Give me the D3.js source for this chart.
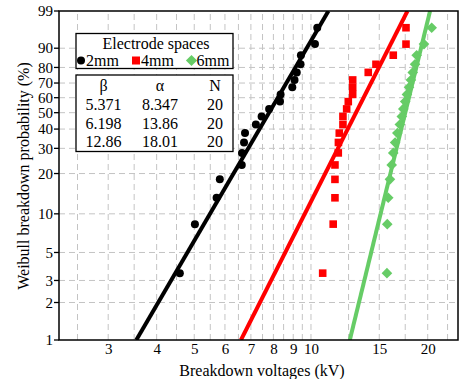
<!DOCTYPE html>
<html><head><meta charset="utf-8">
<script src="https://cdn.jsdelivr.net/npm/d3@7"></script>
<style>
body{margin:0;background:#fff}
svg{display:block}
text{font-family:"Liberation Serif","Times New Roman",serif;fill:#000}
</style>
</head><body>
<svg id="c" width="459" height="379"></svg>
<script>
// ---------- data ----------
const seriesNames = ["2mm", "4mm", "6mm"];
const seriesColors = ["#000000", "#ff0000", "#66cc66"];
const seriesShapes = ["circle", "square", "diamond"];
// median-rank breakdown probabilities (%) for N = 20
const rankProb = [3.43, 8.33, 13.24, 18.14, 23.04, 27.94, 32.84, 37.75, 42.65, 47.55,
                  52.45, 57.35, 62.25, 67.16, 72.06, 76.96, 81.86, 86.76, 91.67, 96.57];
// breakdown voltages (kV)
const volts2mm = [4.59, 5.02, 5.71, 5.82, 6.63, 6.64, 6.72, 6.76, 7.21, 7.46,
                  7.80, 8.32, 8.35, 8.95, 9.07, 9.19, 9.40, 9.42, 10.24, 10.38];
const volts4mm = [10.72, 11.41, 11.53, 11.53, 11.53, 11.76, 11.77, 11.83, 12.09, 12.09,
                  12.36, 12.48, 12.81, 12.81, 12.81, 14.05, 14.71, 16.30, 17.58, 17.58];
const volts6mm = [15.70, 15.73, 15.82, 15.98, 16.15, 16.30, 16.48, 16.70, 16.95, 17.15,
                  17.30, 17.50, 17.68, 17.90, 18.10, 18.30, 18.55, 18.73, 19.56, 20.48];
const betas = [5.371, 6.198, 12.86];
const alphas = [8.347, 13.86, 18.01];
const counts = [20, 20, 20];
const xTicks = [3, 4, 5, 6, 7, 8, 9, 10, 15, 20];
const xGrid = [2.5, 3, 3.5, 4, 4.5, 5, 5.5, 6, 6.5, 7, 7.5, 8, 8.5, 9, 9.5, 10, 12.5, 15, 17.5, 20, 22.5];
const yTicks = [1, 2, 3, 5, 10, 20, 30, 40, 50, 60, 70, 80, 90, 99];
const yGrid = [2, 3, 5, 10, 20, 30, 40, 50, 60, 70, 80, 90];
const xTitle = "Breakdown voltages (kV)";
const yTitle = "Weibull breakdown probability (%)";
const legendTitle = "Electrode spaces";

// ---------- layout ----------
const L = 59, R = 458, T = 11, B = 340;
const svg = d3.select("#c");

const wb = p => Math.log(-Math.log(1 - p / 100));
const x = d3.scaleLog().domain([2.24, 23.94]).range([L, R]);
const yLin = d3.scaleLinear().domain([wb(1), wb(99)]).range([B, T]);
const y = p => yLin(wb(p));

// grid
const grid = svg.append("g").attr("stroke", "#c4c4c4").attr("stroke-width", 1)
  .attr("stroke-dasharray", "6,4");
grid.selectAll("line.v").data(xGrid).join("line")
  .attr("x1", d => x(d)).attr("x2", d => x(d)).attr("y1", B).attr("y2", T);
grid.selectAll("line.h").data(yGrid).join("line")
  .attr("y1", d => y(d)).attr("y2", d => y(d)).attr("x1", L).attr("x2", R);

// clip
svg.append("clipPath").attr("id", "clip").append("rect")
  .attr("x", L).attr("y", T).attr("width", R - L).attr("height", B - T);

// fit lines
const fitG = svg.append("g").attr("clip-path", "url(#clip)");
const pEnds = [1, 99];
betas.forEach((b, i) => {
  const pts = pEnds.map(p => [alphas[i] * Math.exp(wb(p) / b), p]);
  fitG.append("path")
    .attr("d", d3.line().x(d => x(d[0])).y(d => y(d[1]))(pts))
    .attr("stroke", seriesColors[i]).attr("stroke-width", 4).attr("fill", "none");
});

// points
const allVolts = [volts2mm, volts4mm, volts6mm];
function drawMarker(g, shape, cx, cy, color, s) {
  if (shape === "circle") g.append("circle").attr("cx", cx).attr("cy", cy).attr("r", s).attr("fill", color);
  else if (shape === "square") g.append("rect").attr("x", cx - s).attr("y", cy - s).attr("width", 2 * s).attr("height", 2 * s).attr("fill", color);
  else g.append("path").attr("d", `M${cx},${cy - s * 1.4}L${cx + s * 1.4},${cy}L${cx},${cy + s * 1.4}L${cx - s * 1.4},${cy}Z`).attr("fill", color);
}
const ptG = svg.append("g").attr("clip-path", "url(#clip)");
allVolts.forEach((vals, i) => {
  vals.forEach((v, k) => drawMarker(ptG, seriesShapes[i], x(v), y(rankProb[k]), seriesColors[i], i === 0 ? 4 : 3.8));
});

// frame
svg.append("rect").attr("x", L).attr("y", T).attr("width", R - L).attr("height", B - T)
  .attr("fill", "none").attr("stroke", "#000").attr("stroke-width", 1.5);

// y axis
const yAxisG = svg.append("g");
yTicks.forEach(t => {
  yAxisG.append("line").attr("x1", L - 5).attr("x2", L).attr("y1", y(t)).attr("y2", y(t))
    .attr("stroke", "#000").attr("stroke-width", 1.3);
  yAxisG.append("text").attr("x", L - 6).attr("y", y(t)).attr("dy", "0.35em")
    .attr("text-anchor", "end").attr("font-size", 15).text(t);
});
// x axis
const xAxis = d3.axisBottom(x).tickValues(xTicks).tickFormat(d3.format("d")).tickSize(0).tickPadding(3);
const xg = svg.append("g").attr("transform", `translate(0,${B})`).call(xAxis);
xg.select(".domain").remove();
xg.selectAll("text").attr("font-size", 15).attr("font-family", "Liberation Serif");

// titles
svg.append("text").attr("x", 262).attr("y", 370).attr("dy", "0.35em").attr("text-anchor", "middle")
  .attr("font-size", 16).text(xTitle);
svg.append("text").attr("transform", "translate(23,176) rotate(-90)").attr("dy", "0.35em")
  .attr("text-anchor", "middle").attr("font-size", 16).text(yTitle);

// legend box
const bx = 76, bw = 157;
svg.append("rect").attr("x", bx).attr("y", 33.5).attr("width", bw).attr("height", 35)
  .attr("fill", "#fff").attr("stroke", "#000").attr("stroke-width", 1.3);
svg.append("text").attr("x", 156).attr("y", 43.5).attr("dy", "0.35em").attr("text-anchor", "middle")
  .attr("font-size", 16).text(legendTitle);
const legX = [81, 136, 191.5];
seriesNames.forEach((n, i) => {
  drawMarker(svg, seriesShapes[i], legX[i], 60.5, seriesColors[i], 4);
  svg.append("text").attr("x", legX[i] + 5).attr("y", 60.5).attr("dy", "0.35em")
    .attr("font-size", 16).text(n);
});

// parameter table
svg.append("rect").attr("x", bx).attr("y", 75).attr("width", bw).attr("height", 76.5)
  .attr("fill", "#fff").attr("stroke", "#000").attr("stroke-width", 1.3);
const colX = [103.5, 160, 215];
const headers = ["β", "α", "N"];
headers.forEach((h, j) => svg.append("text").attr("x", colX[j]).attr("y", 85.5).attr("dy", "0.35em")
  .attr("text-anchor", "middle").attr("font-size", 16).text(h));
const rowY = [104.5, 123, 141.5];
betas.forEach((b, i) => {
  [b, alphas[i], counts[i]].forEach((v, j) => svg.append("text").attr("x", colX[j]).attr("y", rowY[i])
    .attr("dy", "0.35em").attr("text-anchor", "middle").attr("font-size", 16).text(String(v)));
});
</script>
</body></html>
